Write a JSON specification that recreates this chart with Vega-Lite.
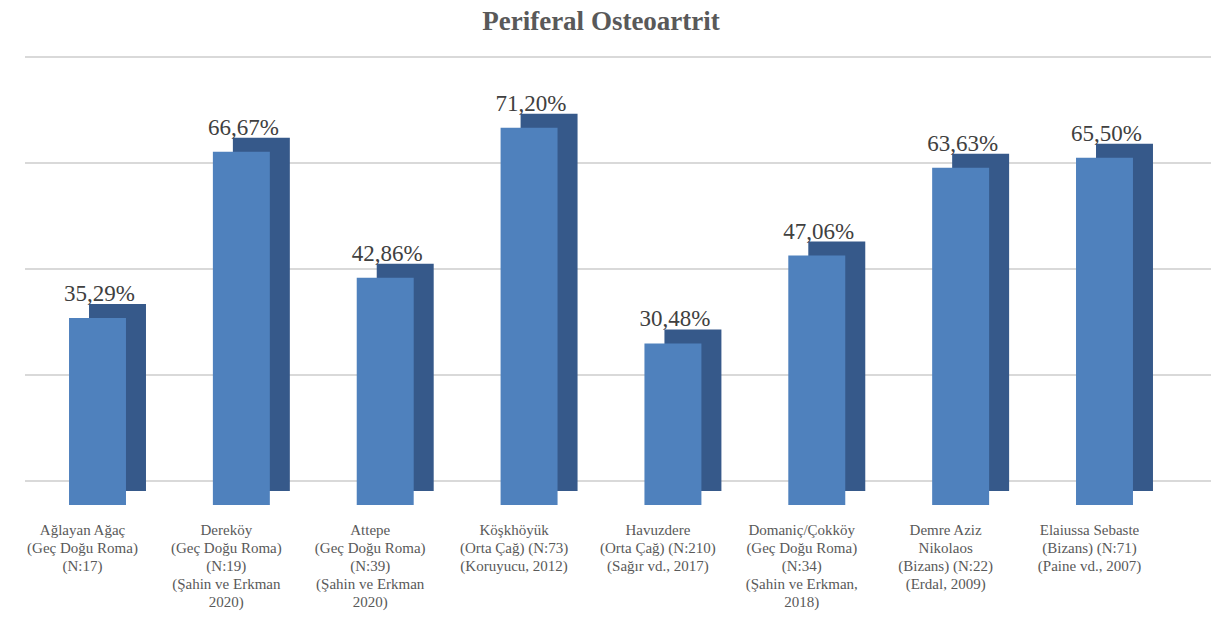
{
  "$schema": "https://vega.github.io/schema/vega-lite/v6.json",
  "autosize": {"type": "none"},
  "padding": {"left": 25, "top": 81, "right": 34, "bottom": 118},
  "width": 1152,
  "height": 424,
  "background": "white",
  "config": {
    "view": {"stroke": null},
    "locale": {"number": {"decimal": ",", "thousands": ".", "grouping": [3], "currency": ["", ""]}}
  },
  "title": {
    "text": "Periferal Osteoartrit",
    "font": "Liberation Serif",
    "fontSize": 27,
    "fontWeight": "bold",
    "color": "#595959",
    "offset": 20
  },
  "data": {
    "values": [
      {"site": "Ağlayan Ağaç|(Geç Doğu Roma)|(N:17)", "v": 0.3529},
      {"site": "Dereköy|(Geç Doğu Roma)|(N:19)|(Şahin ve Erkman|2020)", "v": 0.6667},
      {"site": "Attepe|(Geç Doğu Roma)|(N:39)|(Şahin ve Erkman|2020)", "v": 0.4286},
      {"site": "Köşkhöyük|(Orta Çağ)  (N:73)|(Koruyucu, 2012)", "v": 0.712},
      {"site": "Havuzdere|(Orta Çağ) (N:210)|(Sağır vd., 2017)", "v": 0.3048},
      {"site": "Domaniç/Çokköy|(Geç Doğu Roma)|(N:34)|(Şahin ve Erkman,|2018)", "v": 0.4706},
      {"site": "Demre Aziz|Nikolaos|(Bizans) (N:22)|(Erdal, 2009)", "v": 0.6363},
      {"site": "Elaiussa Sebaste|(Bizans) (N:71)|(Paine vd., 2007)", "v": 0.655}
    ]
  },
  "encoding": {
    "x": {
      "field": "site",
      "type": "nominal",
      "sort": null,
      "scale": {"paddingInner": 0.604, "paddingOuter": 0.306},
      "axis": {
        "title": null,
        "domain": false,
        "ticks": false,
        "labelAngle": 0,
        "labelExpr": "split(datum.value, '|')",
        "labelFont": "Liberation Serif",
        "labelFontSize": 15,
        "labelColor": "#595959",
        "labelLineHeight": 18,
        "labelPadding": 17,
        "labelOffset": -15,
        "labelLimit": 0
      }
    },
    "y": {
      "field": "v",
      "type": "quantitative",
      "scale": {"domain": [0, 0.8], "nice": false},
      "axis": null
    }
  },
  "layer": [
    {
      "data": {"values": [{"g": 0}, {"g": 0.2}, {"g": 0.4}, {"g": 0.6}, {"g": 0.8}]},
      "mark": {"type": "rule", "color": "#d9d9d9", "strokeWidth": 2, "yOffset": -24, "xOffset": 35},
      "encoding": {"y": {"field": "g", "type": "quantitative"}, "x": null}
    },
    {
      "mark": {"type": "bar", "color": "#36598a", "xOffset": 20, "yOffset": -14}
    },
    {
      "mark": {"type": "bar", "color": "#4f81bd"}
    },
    {
      "mark": {
        "type": "text",
        "font": "Liberation Serif",
        "fontSize": 23,
        "color": "#404040",
        "baseline": "alphabetic",
        "dy": -17,
        "dx": 2
      },
      "encoding": {"text": {"field": "v", "type": "quantitative", "format": ".2%"}}
    }
  ]
}
